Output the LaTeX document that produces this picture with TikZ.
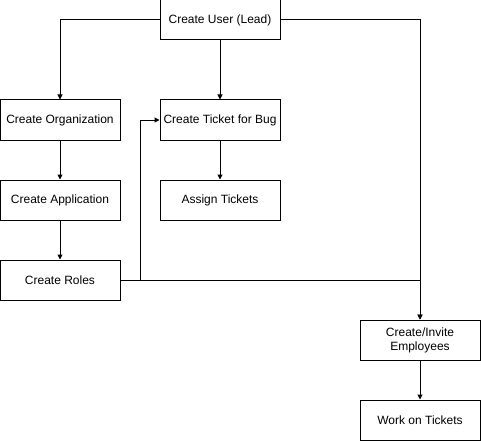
\documentclass[tikz,border=0pt]{standalone}
\usepackage{fontspec}
\setmainfont{Liberation Sans}
\usepackage{tikz}
\usetikzlibrary{arrows.meta}

\begin{document}
\begin{tikzpicture}[x=1pt,y=-1pt,line width=1pt,
  box/.style={draw,minimum width=120pt,minimum height=40pt,align=center,inner sep=1pt,font=\fontsize{12}{14}\selectfont},
  arr/.style={-{Triangle[length=5pt,width=5pt]}}]
\useasboundingbox (0,0) rectangle (481,441);
\node[box] (user) at (220,20) {Create User (Lead)};
\node[box] (org) at (60,120) {Create Organization};
\node[box] (ticket) at (220,120) {Create Ticket for Bug};
\node[box] (app) at (60,200) {Create Application};
\node[box] (assign) at (220,200) {Assign Tickets};
\node[box] (roles) at (60,280) {Create Roles};
\node[box] (invite) at (420,340) {Create/Invite\\Employees};
\node[box] (work) at (420,420) {Work on Tickets};
\coordinate (split) at (140,280);
\draw[arr] (user.west) -| (org.north);
\draw[arr] (user) -- (ticket);
\draw[arr] (user.east) -| (invite.north);
\draw[arr] (org) -- (app);
\draw[arr] (app) -- (roles);
\draw[arr] (ticket) -- (assign);
\draw[arr] (invite) -- (work);
\draw (roles.east) -- (split);
\draw[arr] (split) |- (ticket.west);
\draw[arr] (split) -| (invite.north);
\end{tikzpicture}
\end{document}
